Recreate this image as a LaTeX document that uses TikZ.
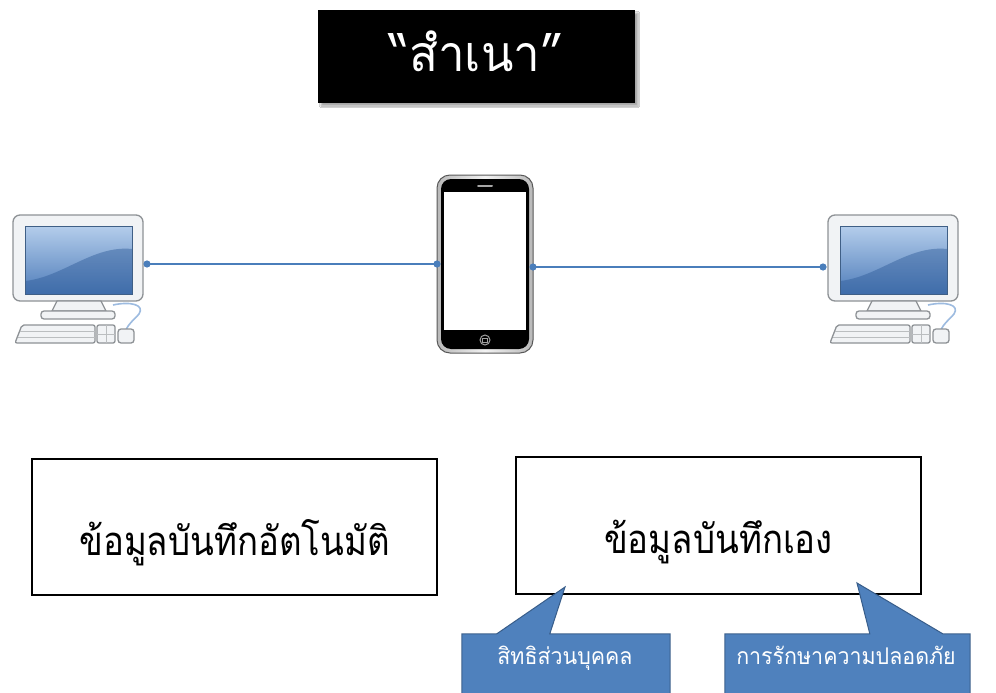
\documentclass[tikz,border=0pt]{standalone}
\usepackage{fontspec}
\newfontfamily\thai[Script=Thai]{Loma}
\newfontfamily\thainarrow[Script=Thai, FakeStretch=0.87]{Loma}
\newfontfamily\thaititle[Script=Thai, FakeStretch=0.95]{Loma}
\newfontfamily\thaismall[Script=Thai, FakeStretch=0.93]{Loma}
\usetikzlibrary{calc,shadows.blur}

\definecolor{linkblue}{HTML}{4A7EBB}
\definecolor{callfill}{HTML}{4F81BD}
\definecolor{calledge}{HTML}{385D8A}
\definecolor{frameline}{HTML}{8E9296}
\definecolor{framefill}{HTML}{F1F3F5}
\definecolor{scrtop}{HTML}{B4CDEB}
\definecolor{scrbot}{HTML}{4F7DBA}
\definecolor{scrdark}{HTML}{2D5A98}
\definecolor{scredge}{HTML}{3F5F86}
\definecolor{cablecol}{HTML}{9DBBE0}

\tikzset{
  pcframe/.style={draw=frameline, fill=framefill, line width=1.3pt},
  keyline/.style={draw=frameline!60, line width=0.5pt},
  cable/.style={draw=cablecol, line width=1.6pt},
  link/.style={draw=linkblue, line width=1.4pt},
  port/.style={fill=linkblue},
  infobox/.style={draw=black, line width=2.8pt, fill=white, inner sep=0pt,
    font=\thainarrow\fontsize{40}{44}\selectfont},
  titlebox/.style={fill=black, inner sep=0pt, text=white,
    blur shadow={shadow xshift=3pt, shadow yshift=-3pt, shadow blur steps=6, shadow opacity=35},
    font=\thaititle\fontsize{50}{54}\selectfont},
  callbody/.style={fill=callfill, inner sep=0pt},
  calloutline/.style={draw=calledge, line width=1pt},
  calltext/.style={text=white, inner sep=0pt, anchor=base, font=\thaismall\fontsize{23}{26}\selectfont},
  computer/.pic={
    % monitor housing and screen
    \draw[pcframe, rounded corners=7] (0,0) rectangle (130,86);
    \shade[top color=scrtop, bottom color=scrbot] (12,11) rectangle (119,79);
    \fill[scrdark, opacity=.45] (12,66) .. controls (50,62) and (80,30) .. (119,34) -- (119,79) -- (12,79) -- cycle;
    \draw[scredge, line width=0.8pt] (12,11) rectangle (119,79);
    % stand
    \draw[pcframe] (44,86) -- (88,86) -- (93,96) -- (39,96) -- cycle;
    \draw[pcframe, rounded corners=3] (28,96) rectangle (102,104);
    % cable to the mouse
    \draw[cable] (100,90) .. controls (118,86) and (132,90) .. (126,99)
      .. controls (120,106) and (116,108) .. (113,115);
    % keyboard, keypad and mouse
    \draw[pcframe, rounded corners=2] (9,110) -- (82,110) -- (82,128) -- (2,128) -- cycle;
    \draw[keyline] (7,116) -- (82,116) (5,122) -- (82,122);
    \draw[pcframe, rounded corners=2] (84,110) -- (102,110) -- (102,128) -- (84,128) -- cycle;
    \draw[keyline] (84,119) -- (102,119) (93,110) -- (93,128);
    \draw[pcframe, rounded corners=3] (105,114) rectangle (121,128);
  },
  smartphone/.pic={
    % metal rim, black face, screen
    \shade[left color=gray!55, right color=gray!55, middle color=gray!10, rounded corners=13]
      (0,0) rectangle (96,178);
    \draw[gray!70!black, line width=1pt, rounded corners=13] (0,0) rectangle (96,178);
    \fill[black, rounded corners=10] (4,4) rectangle (92,174);
    \fill[white] (7,17) rectangle (89,155);
    \draw[gray!70, line width=2pt, line cap=round] (41,11) -- (55,11);
    \draw[gray!75, line width=1pt] (48,165) circle (5pt);
    \draw[gray!75, line width=0.8pt] (45.5,163) rectangle (50.5,167);
  }
}

\begin{document}
\begin{tikzpicture}[x=1pt, y=-1pt]
\useasboundingbox (0,0) rectangle (996,693);
\fill[white] (0,0) rectangle (996,693);

% heading
\node[titlebox, minimum width=317pt, minimum height=93pt, text height=31pt, text depth=0pt] (title) at (476.5,56.5) {“สำเนา”};

% devices
\pic at (13,215) {computer};
\pic at (828,215) {computer};
\pic at (437,175) {smartphone};

% connection points
\coordinate (pcLport) at (147,264);
\coordinate (phoneL) at (437,264);
\coordinate (phoneR) at (533,267);
\coordinate (pcRport) at (823,267);

\draw[link] (pcLport) -- (phoneL);
\draw[link] (phoneR) -- (pcRport);
\foreach \p in {pcLport,phoneL,phoneR,pcRport}
  \fill[port] (\p) circle (3.6pt);

% record boxes
\node[infobox, minimum width=405pt, minimum height=136pt, text height=56pt, text depth=0pt] (auto) at (234.5,527) {ข้อมูลบันทึกอัตโนมัติ};
\node[infobox, minimum width=405pt, minimum height=137pt, text height=55pt, text depth=0pt] (manual) at (718.5,525.5) {ข้อมูลบันทึกเอง};

% callouts
\node[callbody, minimum width=208pt, minimum height=70pt] (privacy) at (566,669) {};
\node[callbody, minimum width=245pt, minimum height=70pt] (security) at (847.5,669) {};
\coordinate (tipA) at (565,587);
\coordinate (tipB) at (857,583);

\fill[callfill] ($(privacy.north west)+(35,0)$) -- (tipA) -- ($(privacy.north west)+(88,0)$) -- cycle;
\draw[calloutline] (privacy.south west) -- (privacy.north west) -- ($(privacy.north west)+(35,0)$)
  -- (tipA) -- ($(privacy.north west)+(88,0)$) -- (privacy.north east) -- (privacy.south east);
\node[calltext] (privacyText) at (565,664) {สิทธิส่วนบุคคล};

\fill[callfill] ($(security.north west)+(145,0)$) -- (tipB) -- ($(security.north west)+(218,0)$) -- cycle;
\draw[calloutline] (security.south west) -- (security.north west) -- ($(security.north west)+(145,0)$)
  -- (tipB) -- ($(security.north west)+(218,0)$) -- (security.north east) -- (security.south east);
\node[calltext] (securityText) at (846,664) {การรักษาความปลอดภัย};
\end{tikzpicture}
\end{document}
